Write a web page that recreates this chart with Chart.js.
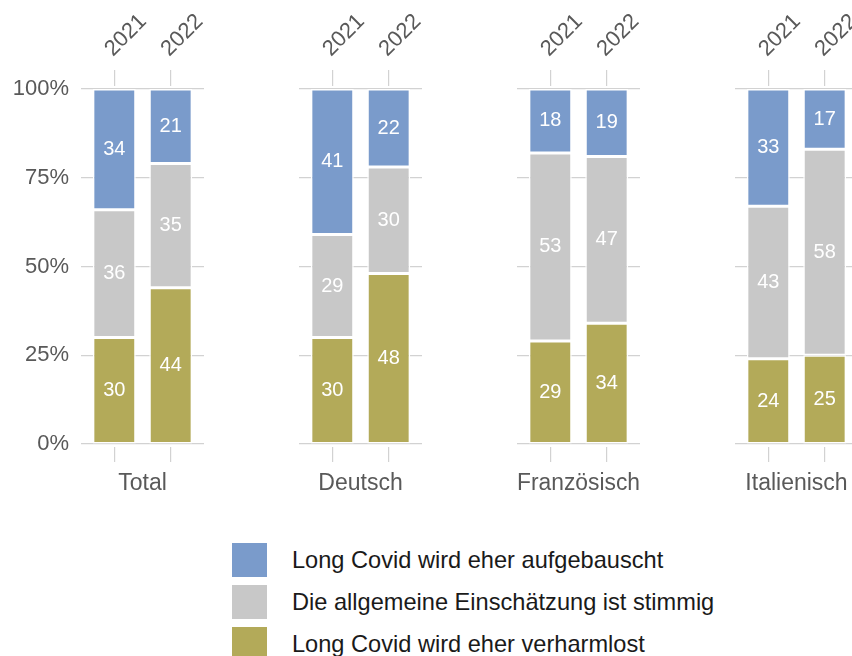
<!DOCTYPE html>
<html>
<head>
<meta charset="utf-8">
<script src="https://cdn.jsdelivr.net/npm/chart.js@4"></script>
<style>
body{margin:0;width:852px;height:656px;overflow:hidden;background:#fff;position:relative;font-family:"Liberation Sans",Arial,sans-serif}
canvas{position:absolute;top:0}
#legend{position:absolute;left:232px;top:543px}
.row{display:flex;align-items:center;height:34px;margin-bottom:8px}
.sw{width:35px;height:34px;margin-right:25px}
.lt{font-size:23.6px;color:#1a1a1a;white-space:nowrap}
</style>
</head>
<body>
<canvas id="c0" width="244" height="500" style="left:0px"></canvas>
<canvas id="c1" width="244" height="500" style="left:218px"></canvas>
<canvas id="c2" width="244" height="500" style="left:436px"></canvas>
<canvas id="c3" width="244" height="500" style="left:654px"></canvas>
<div id="legend"></div>
<script>
const groups = ['Total', 'Deutsch', 'Französisch', 'Italienisch'];
const years = ['2021', '2022'];
const seriesNames = ['Long Covid wird eher aufgebauscht', 'Die allgemeine Einschätzung ist stimmig', 'Long Covid wird eher verharmlost'];
const colors = ['#7a9bcb', '#c8c8c8', '#b3aa59'];
// per group: [2021, 2022]
const aufgebauscht = [[34, 21], [41, 22], [18, 19], [33, 17]];
const stimmig = [[36, 35], [29, 30], [53, 47], [43, 58]];
const verharmlost = [[30, 44], [30, 48], [29, 34], [24, 25]];
const yTicks = [0, 25, 50, 75, 100];

const allSeries = [aufgebauscht, stimmig, verharmlost];
const gridColor = '#d2d2d2';
const axisText = '#595959';
Chart.defaults.font.family = '"Liberation Sans", Arial, sans-serif';

// white numbers in the middle of each segment
const valueLabels = {
  id: 'valueLabels',
  afterDatasetsDraw(chart) {
    const ctx = chart.ctx;
    ctx.save();
    ctx.fillStyle = '#fff';
    ctx.font = '20px "Liberation Sans", Arial, sans-serif';
    ctx.textAlign = 'center';
    ctx.textBaseline = 'middle';
    chart.data.datasets.forEach((ds, i) => {
      chart.getDatasetMeta(i).data.forEach((bar, j) => {
        const p = bar.getProps(['x', 'y', 'base'], true);
        ctx.fillText(ds.data[j].y, p.x, (p.y + p.base) / 2);
      });
    });
    ctx.restore();
  }
};

function yearTicks(s) { s.ticks = years.map((y, i) => ({ value: i })); }

groups.forEach((g, k) => {
  // bottom to top: verharmlost, stimmig, aufgebauscht
  const datasets = [2, 1, 0].map(s => ({
    label: seriesNames[s],
    data: allSeries[s][k].map((v, i) => ({ x: i, y: v })),
    backgroundColor: colors[s],
    borderColor: '#fff',
    borderWidth: 1.5,
    borderSkipped: false,
    barPercentage: 0.95,
    categoryPercentage: 0.8,
    xAxisID: 'x'
  }));
  new Chart(document.getElementById('c' + k), {
    type: 'bar',
    data: { datasets: datasets },
    options: {
      responsive: false,
      animation: false,
      layout: { padding: { left: 0, right: 40, top: 0, bottom: 0 } },
      plugins: { legend: { display: false }, tooltip: { enabled: false } },
      scales: {
        x: {
          type: 'linear', position: 'top', stacked: true, min: -0.59, max: 1.59, offset: false,
          afterBuildTicks: yearTicks,
          afterFit: s => { s.height = 86; },
          ticks: { callback: v => years[v], minRotation: 45, maxRotation: 45, padding: 8, labelOffset: 13, color: axisText, font: { size: 22 } },
          grid: { offset: false, drawOnChartArea: false, drawTicks: true, tickLength: 16, color: gridColor, lineWidth: 1.2 },
          border: { display: false }
        },
        x2: {
          type: 'linear', position: 'bottom', min: -0.59, max: 1.59, offset: false,
          afterBuildTicks: yearTicks,
          afterFit: s => { s.height = 53; },
          ticks: { display: false },
          grid: { offset: false, drawOnChartArea: false, drawTicks: true, tickLength: 15, color: gridColor, lineWidth: 1.2 },
          border: { display: false },
          title: { display: true, text: g, color: axisText, font: { size: 23 }, padding: { top: 0, bottom: 3 } }
        },
        y: {
          stacked: true, min: -0.845, max: 100.845,
          afterBuildTicks: s => { s.ticks = yTicks.map(v => ({ value: v })); },
          afterFit: s => { s.width = 81; },
          ticks: { display: k === 0, callback: v => v + '%', padding: 12, color: axisText, font: { size: 22 } },
          grid: { drawTicks: false, color: gridColor, lineWidth: 1.2 },
          border: { display: false }
        }
      }
    },
    plugins: [valueLabels]
  });
});

const legend = document.getElementById('legend');
seriesNames.forEach((n, i) => {
  const row = document.createElement('div');
  row.className = 'row';
  row.innerHTML = '<div class="sw" style="background:' + colors[i] + '"></div><div class="lt">' + n + '</div>';
  legend.appendChild(row);
});
</script>
</body>
</html>
